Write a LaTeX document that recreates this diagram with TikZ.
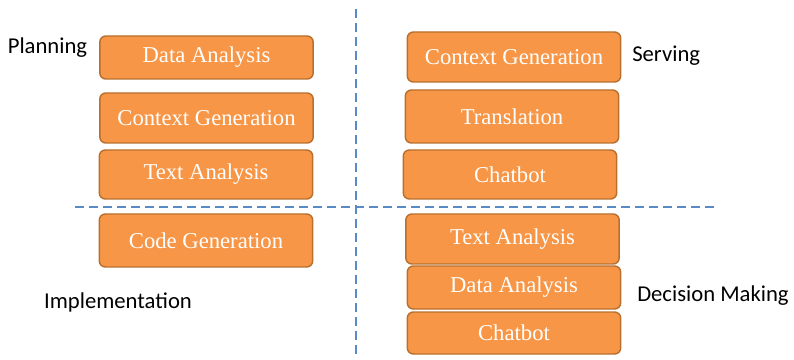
\documentclass[tikz,border=0pt]{standalone}
\usepackage{fontspec}
\setmainfont{Liberation Serif}
\newfontfamily\labelfont{Carlito}
\definecolor{boxfill}{HTML}{F79646}
\definecolor{boxline}{HTML}{B8702E}
\definecolor{splitline}{HTML}{5A8AC6}
\begin{document}
\begin{tikzpicture}[x=0.75pt, y=-0.75pt,
    task/.style={draw=boxline, fill=boxfill, line width=1.1pt, rounded corners=4.5pt,
        minimum width=160pt, inner sep=0pt, text=white, font=\fontsize{17}{20}\selectfont},
    phase/.style={font=\labelfont\fontsize{17}{20}\selectfont, inner sep=0pt},
    split/.style={splitline, line width=2.2pt, dash pattern=on 7pt off 3.5pt}]
    \useasboundingbox (0,0) rectangle (794,360);
    % planning
    \node[task, minimum height=32.25pt] (dataL) at (206.5,57.5) {Data Analysis};
    \node[task, minimum height=37.5pt] (ctxL) at (206.5,118) {Context Generation};
    \node[task, minimum height=36.75pt] (textL) at (206,174.5) {Text Analysis};
    % implementation
    \node[task, minimum height=39.75pt] (codeL) at (206,240.5) {Code Generation};
    % serving
    \node[task, minimum height=37.5pt] (ctxR) at (514,57) {Context Generation};
    \node[task, minimum height=39.75pt] (transR) at (512,116.5) {Translation};
    \node[task, minimum height=36.75pt] (chatR) at (510,174.5) {Chatbot};
    % decision making
    \node[task, minimum height=37.5pt] (textR) at (512.5,239) {Text Analysis};
    \node[task, minimum height=32.25pt] (dataR) at (514,287.5) {Data Analysis};
    \node[task, minimum height=31.5pt] (chatR2) at (514,333) {Chatbot};
    % phase names
    \node[phase] (planning) at (47.5,48) {Planning};
    \node[phase, anchor=west] (serving) at (632,56) {Serving};
    \node[phase] (impl) at (118,302) {Implementation};
    \node[phase, anchor=west] (decision) at (637,296) {Decision Making};
    % dividers
    \coordinate (vtop) at (356,9);
    \coordinate (vbot) at (356,358);
    \coordinate (hleft) at (75,207);
    \coordinate (hright) at (717,207);
    \draw[split] (vtop) -- (vbot);
    \draw[split] (hleft) -- (hright);
\end{tikzpicture}
\end{document}
